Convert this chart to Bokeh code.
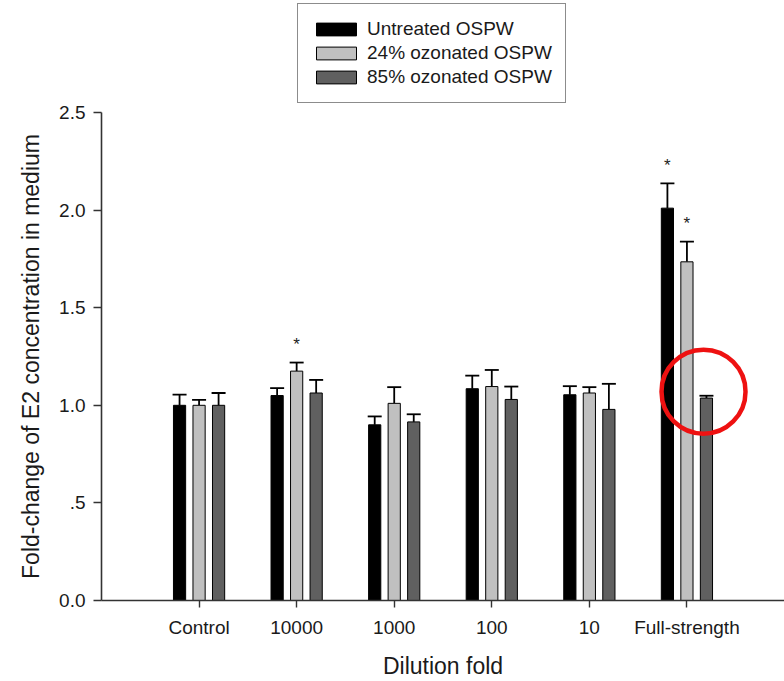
from bokeh.plotting import figure
from bokeh.layouts import column
from bokeh.models import (Range1d, FixedTicker, Whisker, TeeHead, ColumnDataSource,
                          Legend, LegendItem)
from bokeh.core.properties import value
from bokeh.embed import file_html
from bokeh.resources import INLINE

# ---- data ----
categories = ["Control", "10000", "1000", "100", "10", "Full-strength"]
untreated = [1.00, 1.05, 0.90, 1.085, 1.054, 2.01]
untreated_upper = [1.055, 1.088, 0.943, 1.152, 1.098, 2.137]
oz24 = [1.00, 1.175, 1.01, 1.096, 1.063, 1.735]
oz24_upper = [1.028, 1.219, 1.093, 1.181, 1.093, 1.838]
oz85 = [1.00, 1.063, 0.915, 1.030, 0.979, 1.037]
oz85_upper = [1.063, 1.13, 0.954, 1.096, 1.11, 1.049]
untreated_sig = [False, False, False, False, False, True]
oz24_sig = [False, True, False, False, False, True]
oz85_sig = [False, False, False, False, False, False]
series_names = ["Untreated OSPW", "24% ozonated OSPW", "85% ozonated OSPW"]
y_ticks = [0.0, 0.5, 1.0, 1.5, 2.0, 2.5]
y_tick_labels = ["0.0", ".5", "1.0", "1.5", "2.0", "2.5"]
highlight_cat = 5      # circled bar: Full-strength, 85% ozonated
highlight_y = 1.07

FONT = "Liberation Sans"
colors = ["#000000", "#c0c0c0", "#606060"]
offsets = [-0.2, 0.0, 0.2]
bar_w = 0.125

idx = list(range(len(categories)))
series = [(untreated, untreated_upper, untreated_sig),
          (oz24, oz24_upper, oz24_sig),
          (oz85, oz85_upper, oz85_sig)]
sources = [ColumnDataSource(dict(x=[i + off for i in idx], top=vals, upper=ups))
           for (vals, ups, _), off in zip(series, offsets)]

# ---- legend strip (top) ----
lf = figure(width=784, height=103, output_backend="svg", toolbar_location=None,
            x_range=Range1d(0, 1), y_range=Range1d(0, 1),
            x_axis_type=None, y_axis_type=None,
            min_border_left=0, min_border_right=0, min_border_top=0, min_border_bottom=0)
lf.outline_line_color = None
lf.grid.visible = False
lf.border_fill_color = "white"
legend_items = []
for src, col, name in zip(sources, colors, series_names):
    r = lf.vbar(x="x", top="top", width=bar_w, source=src, fill_color=col,
                line_color="#000000", line_width=1, visible=False)
    legend_items.append(LegendItem(label=name, renderers=[r]))
legend = Legend(items=legend_items, location=(196, 0), orientation="vertical",
                label_text_font=FONT, label_text_font_size="19px",
                label_text_color="#1a1a1a",
                glyph_width=50, glyph_height=16, label_height=24, label_standoff=6,
                spacing=0, padding=13, margin=0,
                inactive_fill_alpha=0,
                border_line_color="#1a1a1a", border_line_width=1.8,
                background_fill_color="white", background_fill_alpha=1)
lf.add_layout(legend)

# ---- main chart ----
p = figure(width=784, height=578, output_backend="svg", toolbar_location=None,
           x_range=Range1d(-1, 6), y_range=Range1d(0, 2.5),
           min_border_left=101, min_border_right=0, min_border_top=9,
           min_border_bottom=78)
p.outline_line_color = None
p.grid.visible = False
p.background_fill_color = "white"
p.border_fill_color = "white"

for src, (vals, ups, sig), col, off in zip(sources, series, colors, offsets):
    p.vbar(x="x", top="top", width=bar_w, source=src, fill_color=col,
           line_color="#000000", line_width=1)
    w = Whisker(base="x", lower="top", upper="upper", source=src, dimension="height",
                line_color="#000000", line_width=1.8,
                upper_head=TeeHead(size=14, line_color="#000000", line_width=1.8),
                lower_head=None)
    p.add_layout(w)
    sx = [i + off for i, s in zip(idx, sig) if s]
    sy = [u for u, s in zip(ups, sig) if s]
    if sx:
        p.text(x=sx, y=sy, text=["*"] * len(sx), text_align="center",
               text_baseline="alphabetic", y_offset=-18,
               text_font=value(FONT), text_font_size="17px", text_color="#222222")

# highlight circle annotation (drawn slightly left of the bar centre, as in the original)
p.scatter(x=[highlight_cat + offsets[2] - 0.03], y=[highlight_y], marker="circle",
          size=84, fill_color=None, line_color="#ee1111", line_width=4.5)

# axes
p.xaxis.ticker = FixedTicker(ticks=idx)
p.xaxis.major_label_overrides = {i: c for i, c in zip(idx, categories)}
p.yaxis.ticker = FixedTicker(ticks=y_ticks)
p.yaxis.major_label_overrides = {t: s for t, s in zip(y_ticks, y_tick_labels)}
p.xaxis.axis_label = "Dilution fold"
p.yaxis.axis_label = "Fold-change of E2 concentration in medium"
for ax in (p.xaxis, p.yaxis):
    ax.axis_line_color = "#333333"
    ax.axis_line_width = 1.6
    ax.major_tick_line_color = "#333333"
    ax.major_tick_line_width = 1.4
    ax.major_tick_in = 0
    ax.minor_tick_line_color = None
    ax.major_label_text_font = FONT
    ax.major_label_text_font_size = "19px"
    ax.major_label_text_color = "#1a1a1a"
    ax.axis_label_text_font = FONT
    ax.axis_label_text_font_size = "23px"
    ax.axis_label_text_font_style = "normal"
    ax.axis_label_text_color = "#1a1a1a"
p.xaxis.major_tick_out = 7
p.xaxis.major_label_standoff = 9
p.xaxis.axis_label_standoff = 12
p.yaxis.major_tick_out = 8
p.yaxis.major_label_standoff = 8
p.yaxis.axis_label_standoff = 12

layout = column(lf, p, spacing=0)
open("out.html", "w").write(file_html(layout, INLINE))
